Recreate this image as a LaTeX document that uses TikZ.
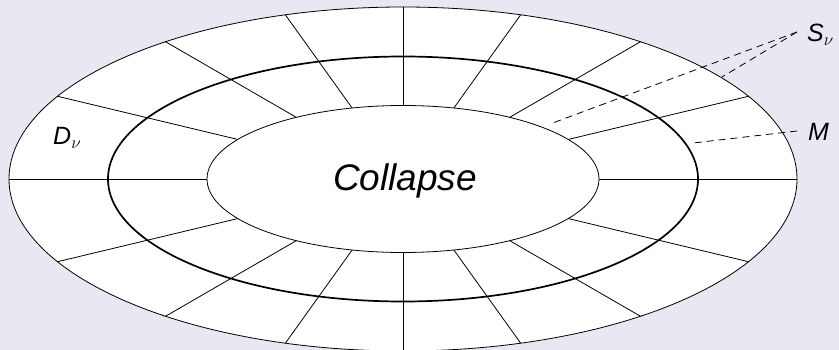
\documentclass[tikz,border=0pt]{standalone}
\usepackage{fontspec}
\setmainfont{Liberation Sans}
\definecolor{bgc}{RGB}{232,232,243}
\tikzset{
  gridline/.style={line width=0.8pt, black},
  rimline/.style={line width=0.8pt, black},
  mline/.style={line width=1.7pt, black},
  leader/.style={line width=0.8pt, black, dash pattern=on 7pt off 5pt},
  biglabel/.style={font=\itshape\fontsize{37}{40}\selectfont, inner sep=0pt},
  smalllabel/.style={font=\fontsize{25}{30}\selectfont, inner sep=0pt},
}
\begin{document}
\begin{tikzpicture}[x=1pt,y=-1pt]
\useasboundingbox (0,0) rectangle (839,350);
\fill[bgc] (0,0) rectangle (839,350);
\coordinate (c) at (403,179);
% outer disk
\fill[white] (c) ellipse [x radius=394pt, y radius=172pt];
\begin{scope}
  \clip (c) ellipse [x radius=394pt, y radius=172pt];
  \foreach \k in {0,...,15}
    \draw[gridline] (c) -- ++({500*cos(\k*22.5)},{500*sin(\k*22.5)/1.73});
\end{scope}
% inner collapse region
\fill[white] (c) ellipse [x radius=196pt, y radius=73.5pt];
\draw[rimline] (c) ellipse [x radius=196pt, y radius=73.5pt];
% middle surface M
\draw[mline] (c) ellipse [x radius=295pt, y radius=122.5pt];
% outer rim
\draw[rimline] (c) ellipse [x radius=394pt, y radius=172pt];
% labels
\node[biglabel, anchor=base] (collapse) at (405,191) {Collapse};
\node[smalllabel, anchor=base west] (dnu) at (53,145) {\textit{D}$_\nu$};
\node[smalllabel, anchor=base west] (snu) at (807,42) {\textit{S}$_\nu$};
\node[smalllabel, anchor=base west] (mlab) at (808,141) {\textit{M}};
% leaders
\coordinate (sfrom) at (797,32);
\coordinate (sto1) at (550,124);
\coordinate (sto2) at (722,77);
\coordinate (mfrom) at (797,131);
\coordinate (mto) at (693,143);
\draw[leader] (sfrom) -- (sto1);
\draw[leader] (sfrom) -- (sto2);
\draw[leader] (mfrom) -- (mto);
\end{tikzpicture}
\end{document}
